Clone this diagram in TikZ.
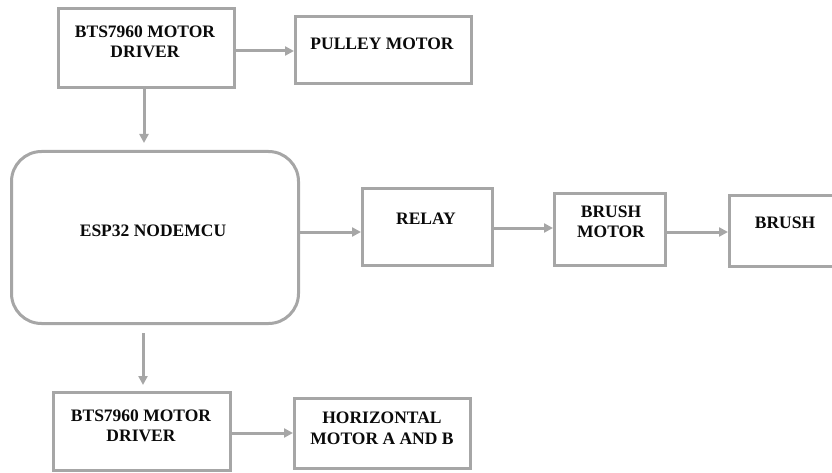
\documentclass[tikz,border=0pt]{standalone}
\usepackage{fontspec}
\setmainfont{Liberation Serif}
\usetikzlibrary{arrows.meta}
\definecolor{lgray}{RGB}{166,166,166}
\definecolor{txt}{RGB}{10,10,10}
\begin{document}
\begin{tikzpicture}[x=1pt,y=-1pt,
  blk/.style={draw=lgray,line width=3pt,rectangle,inner sep=0pt,fill=white},
  lbl/.style={anchor=base,inner sep=0pt,text=txt,font=\bfseries\fontsize{17.5}{20}\selectfont},
  arr/.style={draw=lgray,line width=3pt,-{Triangle[length=9pt,width=9pt]}}]
\useasboundingbox (0,0) rectangle (832,473);
\clip (0,0) rectangle (832,473);
% boxes
\node[blk,minimum width=176pt,minimum height=79pt] (drv1) at (146.5,48) {};
\node[blk,minimum width=176pt,minimum height=67pt] (pulley) at (383.5,50) {};
\node[blk,minimum width=287pt,minimum height=172pt,rounded corners=30pt] (esp) at (155,237.5) {};
\node[blk,minimum width=130pt,minimum height=77pt] (relay) at (427.5,227) {};
\node[blk,minimum width=111pt,minimum height=72pt] (bm) at (610,229.5) {};
\node[blk,minimum width=140pt,minimum height=71pt] (brush) at (799.5,231) {};
\node[blk,minimum width=177pt,minimum height=78pt] (drv2) at (142,431.5) {};
\node[blk,minimum width=176pt,minimum height=70pt] (hor) at (382.5,433.5) {};
% texts
\node[lbl] (t1a) at (145,38) {BTS7960 MOTOR};
\node[lbl] (t1b) at (145,58) {DRIVER};
\node[lbl] (t2) at (382,50) {PULLEY MOTOR};
\node[lbl] (t3) at (153,236) {ESP32 NODEMCU};
\node[lbl] (t4) at (426,224) {RELAY};
\node[lbl] (t5a) at (611,217) {BRUSH};
\node[lbl] (t5b) at (611,237) {MOTOR};
\node[lbl] (t6) at (785,228) {BRUSH};
\node[lbl] (t7a) at (141,421) {BTS7960 MOTOR};
\node[lbl] (t7b) at (141,441) {DRIVER};
\node[lbl] (t8a) at (382,423) {HORIZONTAL};
\node[lbl] (t8b) at (382,444) {MOTOR A AND B};
% connector rows
\coordinate (ya) at (0,51);
\coordinate (yb) at (0,232);
\coordinate (yc) at (0,228);
\coordinate (yd) at (0,433);
\coordinate (xa) at (144,0);
\coordinate (xb) at (143,0);
% connectors
\draw[arr] (drv1.east |- ya) -- (pulley.west |- ya);
\draw[arr,shorten >=7pt] (xa |- drv1.south) -- (xa |- esp.north);
\draw[arr] (esp.east |- yb) -- (relay.west |- yb);
\draw[arr] (relay.east |- yc) -- (bm.west |- yc);
\draw[arr] (bm.east |- yb) -- (brush.west |- yb);
\draw[arr,shorten <=8pt,shorten >=6pt] (xb |- esp.south) -- (xb |- drv2.north);
\draw[arr] (drv2.east |- yd) -- (hor.west |- yd);
\end{tikzpicture}
\end{document}
